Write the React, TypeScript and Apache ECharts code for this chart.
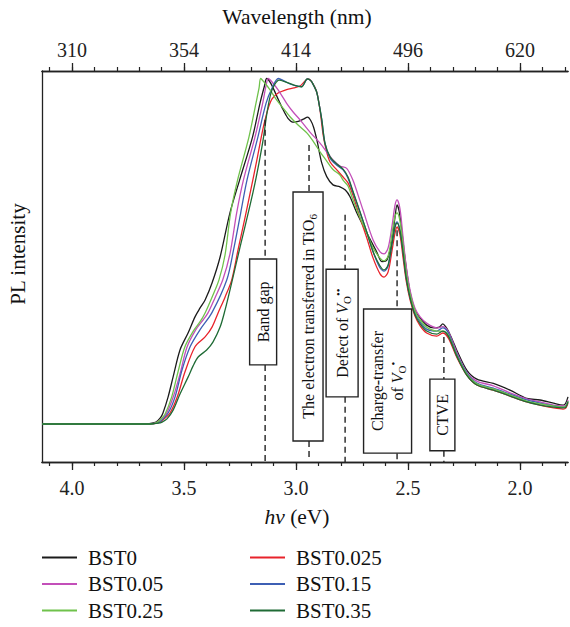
import React, { useEffect, useRef } from 'react';
import * as echarts from 'echarts';

const FONT = "'Liberation Serif', 'Times New Roman', serif";

// Photon energy axis (eV)
const energyMin = 1.786;
const energyMax = 4.134;
const majorTicks = [2.0, 2.5, 3.0, 3.5, 4.0];
const wavelengthLabels = ['620', '496', '414', '354', '310'];
const minorTicks = [1.8, 1.9, 2.0, 2.1, 2.2, 2.3, 2.4, 2.5, 2.6, 2.7, 2.8, 2.9, 3.0, 3.1, 3.2, 3.3, 3.4, 3.5, 3.6, 3.7, 3.8, 3.9, 4.0, 4.1];

const seriesNames = ['BST0', 'BST0.025', 'BST0.05', 'BST0.15', 'BST0.25', 'BST0.35'];
const seriesColors = ['#1b1b1b', '#e8232b', '#c34fb9', '#3d5fb4', '#6fc24b', '#1f6b35'];

// [energy (eV), PL intensity (a.u.)]
const bst0 = [
  [4.134, 10.4], [3.9, 10.4], [3.7, 10.4], [3.655, 10.5], [3.625, 10.9], [3.605, 12.0], [3.594, 13.2],
  [3.571, 17.3], [3.549, 22.3], [3.518, 29.2], [3.482, 33.5], [3.451, 37.6], [3.429, 39.8], [3.406, 41.9],
  [3.375, 46.2], [3.339, 52.8], [3.295, 64.0], [3.252, 72.3], [3.194, 83.3], [3.161, 91.8], [3.141, 96.2],
  [3.131, 98.1], [3.112, 96.8], [3.085, 93.5], [3.064, 90.9], [3.036, 88.0], [3.01, 87.0], [2.99, 87.2],
  [2.967, 87.8], [2.948, 88.3], [2.935, 87.5], [2.922, 85.8], [2.907, 82.5], [2.885, 76.6], [2.863, 73.2],
  [2.835, 71.1], [2.804, 70.6], [2.78, 69.8], [2.759, 68.1], [2.729, 64.0], [2.684, 58.9], [2.64, 54.1],
  [2.616, 51.6], [2.598, 51.8], [2.585, 53.5], [2.571, 57.1], [2.558, 63.0], [2.549, 66.0], [2.54, 64.5],
  [2.529, 60.0], [2.518, 54.5], [2.505, 48.8], [2.491, 43.9], [2.469, 39.3], [2.446, 37.3], [2.417, 35.5],
  [2.385, 34.8], [2.36, 35.0], [2.345, 35.8], [2.333, 35.2], [2.32, 34.0], [2.3, 31.5], [2.283, 29.2],
  [2.238, 24.1], [2.193, 21.8], [2.119, 20.7], [2.045, 19.0], [1.97, 16.9], [1.911, 16.5], [1.851, 15.7],
  [1.808, 15.2], [1.797, 15.6], [1.786, 17.3],
];

const bst0025 = [
  [4.134, 10.4], [3.9, 10.4], [3.7, 10.4], [3.65, 10.4], [3.62, 10.6], [3.6, 11.2], [3.5625, 13.2],
  [3.53, 17.3], [3.496, 23.6], [3.451, 30.0], [3.406, 32.5], [3.375, 35.0], [3.348, 38.6], [3.317, 42.6],
  [3.287, 47.0], [3.259, 54.6], [3.228, 62.7], [3.202, 69.8], [3.175, 77.4], [3.156, 83.0], [3.143, 86.5],
  [3.125, 90.4], [3.107, 92.9], [3.08, 94.4], [3.042, 95.3], [3.009, 95.7], [2.982, 96.2], [2.964, 97.2],
  [2.946, 98.0], [2.929, 97.2], [2.908, 94.7], [2.893, 90.1], [2.879, 83.8], [2.863, 79.4], [2.848, 76.9],
  [2.818, 74.9], [2.79, 73.1], [2.768, 71.6], [2.746, 68.5], [2.714, 62.7], [2.684, 57.6], [2.656, 52.5],
  [2.625, 48.5], [2.607, 47.7], [2.589, 49.0], [2.571, 54.6], [2.558, 58.9], [2.549, 60.4], [2.536, 58.4],
  [2.522, 52.5], [2.509, 47.0], [2.491, 41.9], [2.469, 37.8], [2.446, 35.3], [2.417, 33.5], [2.372, 32.7],
  [2.345, 33.5], [2.32, 32.2], [2.283, 27.4], [2.238, 22.8], [2.193, 20.3], [2.119, 19.0], [2.045, 17.5],
  [1.97, 16.0], [1.911, 15.2], [1.851, 14.5], [1.808, 14.2], [1.795, 14.5], [1.786, 15.7],
];

const bst005 = [
  [4.134, 10.4], [3.9, 10.4], [3.7, 10.4], [3.65, 10.4], [3.625, 10.7], [3.608, 11.4], [3.58, 12.9],
  [3.548, 17.3], [3.518, 23.1], [3.487, 29.9], [3.446, 34.5], [3.415, 36.8], [3.393, 38.6], [3.362, 42.4],
  [3.327, 47.0], [3.295, 53.6], [3.265, 64.0], [3.235, 72.3], [3.183, 83.3], [3.149, 91.8], [3.134, 96.2],
  [3.124, 98.1], [3.107, 97.2], [3.08, 95.2], [3.042, 91.8], [3.013, 89.6], [2.982, 87.6], [2.938, 84.5],
  [2.893, 81.7], [2.862, 79.4], [2.835, 77.4], [2.804, 75.9], [2.774, 75.3], [2.746, 72.3], [2.723, 68.5],
  [2.701, 64.7], [2.656, 57.1], [2.625, 54.1], [2.607, 53.6], [2.589, 55.1], [2.571, 60.9], [2.558, 66.0],
  [2.549, 67.3], [2.536, 65.0], [2.522, 57.6], [2.509, 50.8], [2.491, 44.4], [2.469, 39.8], [2.446, 37.6],
  [2.417, 36.0], [2.372, 34.8], [2.345, 35.1], [2.32, 33.8], [2.283, 28.7], [2.238, 23.6], [2.193, 21.3],
  [2.119, 20.1], [2.045, 18.3], [1.97, 16.8], [1.911, 16.0], [1.851, 15.2], [1.808, 15.0], [1.795, 15.2],
  [1.786, 16.5],
];

const bst015 = [
  [4.134, 10.4], [3.9, 10.4], [3.7, 10.4], [3.65, 10.4], [3.622, 10.6], [3.607, 11.0], [3.571, 13.2],
  [3.54, 17.3], [3.509, 24.1], [3.473, 30.0], [3.429, 34.3], [3.376, 38.6], [3.309, 47.0], [3.279, 54.6],
  [3.247, 64.0], [3.219, 72.3], [3.17, 83.3], [3.134, 91.8], [3.107, 95.7], [3.079, 98.1], [3.054, 97.5],
  [3.027, 96.7], [3.0, 96.2], [2.975, 96.0], [2.96, 97.2], [2.95, 98.0], [2.933, 97.5], [2.92, 96.2],
  [2.908, 94.7], [2.897, 91.6], [2.885, 87.6], [2.871, 81.7], [2.848, 77.9], [2.818, 76.1], [2.79, 74.9],
  [2.768, 72.8], [2.746, 69.3], [2.714, 64.0], [2.684, 59.1], [2.656, 54.1], [2.625, 50.0], [2.607, 49.2],
  [2.589, 50.5], [2.571, 56.6], [2.558, 60.7], [2.549, 61.7], [2.536, 59.6], [2.522, 54.1], [2.509, 48.0],
  [2.491, 42.6], [2.469, 38.6], [2.446, 36.3], [2.417, 34.5], [2.372, 34.0], [2.345, 34.8], [2.32, 33.5],
  [2.283, 28.2], [2.238, 23.4], [2.193, 20.8], [2.119, 19.5], [2.045, 18.0], [1.97, 16.5], [1.911, 15.7],
  [1.851, 15.0], [1.808, 14.7], [1.795, 15.0], [1.786, 16.2],
];

const bst025 = [
  [4.134, 10.4], [3.9, 10.4], [3.7, 10.4], [3.65, 10.4], [3.625, 10.7], [3.607, 11.4], [3.585, 12.9],
  [3.555, 17.3], [3.527, 23.6], [3.496, 30.0], [3.455, 34.3], [3.429, 36.3], [3.406, 38.6], [3.375, 42.6],
  [3.344, 47.0], [3.317, 53.3], [3.292, 64.0], [3.261, 72.3], [3.21, 83.3], [3.179, 91.8], [3.165, 95.7],
  [3.158, 98.1], [3.143, 97.2], [3.116, 95.2], [3.086, 92.6], [3.058, 90.6], [3.027, 88.4], [2.991, 86.3],
  [2.952, 84.3], [2.924, 82.2], [2.893, 79.5], [2.866, 77.4], [2.835, 75.0], [2.804, 73.6], [2.79, 72.3],
  [2.768, 70.8], [2.746, 67.3], [2.714, 62.7], [2.684, 58.9], [2.656, 55.1], [2.625, 52.5], [2.607, 51.8],
  [2.589, 53.0], [2.571, 58.9], [2.558, 63.2], [2.549, 64.0], [2.536, 61.9], [2.522, 55.6], [2.509, 49.2],
  [2.491, 43.4], [2.469, 39.1], [2.446, 36.8], [2.417, 35.0], [2.372, 34.0], [2.345, 34.0], [2.32, 33.0],
  [2.283, 27.9], [2.238, 23.1], [2.193, 20.6], [2.119, 19.3], [2.045, 17.8], [1.97, 16.2], [1.911, 15.5],
  [1.851, 15.0], [1.808, 14.7], [1.795, 15.0], [1.786, 16.2],
];

const bst035 = [
  [4.134, 10.4], [3.9, 10.4], [3.7, 10.4], [3.65, 10.4], [3.615, 10.6], [3.598, 10.9], [3.576, 11.7],
  [3.548, 14.0], [3.518, 18.0], [3.482, 22.3], [3.46, 25.1], [3.437, 27.4], [3.399, 29.2], [3.371, 31.2],
  [3.339, 35.0], [3.317, 39.3], [3.295, 44.4], [3.25, 55.3], [3.205, 66.0], [3.183, 71.6], [3.163, 77.4],
  [3.147, 82.5], [3.129, 89.6], [3.112, 94.4], [3.094, 96.7], [3.076, 97.7], [3.045, 97.2], [3.009, 96.4],
  [2.975, 96.0], [2.95, 98.0], [2.933, 97.5], [2.92, 96.2], [2.908, 94.7], [2.897, 91.6], [2.885, 87.6],
  [2.871, 81.7], [2.848, 78.2], [2.818, 76.4], [2.79, 75.1], [2.768, 73.1], [2.746, 69.5], [2.714, 64.2],
  [2.684, 59.1], [2.656, 54.1], [2.625, 50.5], [2.607, 49.5], [2.589, 50.8], [2.571, 56.3], [2.558, 60.4],
  [2.549, 61.4], [2.536, 59.4], [2.522, 53.8], [2.509, 47.7], [2.491, 42.4], [2.469, 38.1], [2.446, 35.8],
  [2.417, 34.0], [2.372, 33.2], [2.345, 34.0], [2.32, 32.7], [2.283, 27.7], [2.238, 22.8], [2.193, 20.3],
  [2.119, 19.0], [2.045, 17.5], [1.97, 16.0], [1.911, 15.2], [1.851, 14.7], [1.808, 14.5], [1.795, 14.7],
  [1.786, 16.0],
];

const seriesData = [bst0, bst0025, bst005, bst015, bst025, bst035];

// Annotations: energy of each feature, dashed-line and box extents in intensity units
const annotationEnergies = [3.138, 2.942, 2.781, 2.549, 2.34];
const annotationLabels = [
  'Band gap',
  'The electron transferred in TiO{sub|6}',
  'Defect of {it|V}{sub|O}{sup|••}',
  'Charge-transfer\nof {it|V}{sub|O}{sup|•}',
  'CTVE',
];
const annotationDashTop = [87.6, 81.2, 63.5, 59.6, 32.5];
const annotationBoxTop = [52.3, 69.3, 49.7, 39.6, 21.8];
const annotationBoxBottom = [25.4, 6.1, 17.3, 3.0, 3.6];
const annotationDashBottom = [0.76, 2.0, 0.76, 0.76, 0.76];

const boxWidths = [27, 30, 32, 48, 25];
const boxShifts = [-2, -1, -3, -9.5, -1.5];

const tickFormatter = (v: number) => v.toFixed(1);
const topFormatter = (v: number) => {
  const i = majorTicks.findIndex((t) => Math.abs(t - v) < 1e-6);
  return i >= 0 ? wavelengthLabels[i] : '';
};

function buildOption() {
  const axisLine = { show: true, lineStyle: { color: '#222', width: 1.3 } };
  const baseX = {
    type: 'value',
    min: energyMin,
    max: energyMax,
    inverse: true,
    splitLine: { show: false },
    axisLine,
  };
  const rich = {
    sub: { fontSize: 11, lineHeight: 10, verticalAlign: 'bottom', fontFamily: FONT, fill: '#111' },
    sup: { fontSize: 11, lineHeight: 10, verticalAlign: 'top', fontFamily: FONT, fill: '#111' },
    it: { fontSize: 16, lineHeight: 20, fontStyle: 'italic', fontFamily: FONT, fill: '#111' },
  };
  const legendCommon = {
    orient: 'vertical',
    top: 547,
    height: 82,
    padding: 0,
    itemWidth: 35,
    itemHeight: 2,
    itemGap: 5.5,
    icon: 'rect',
    textStyle: { fontSize: 21, lineHeight: 21, fontFamily: FONT, color: '#111', padding: [0, 0, 0, 6] },
  };

  return {
    animation: false,
    backgroundColor: '#ffffff',
    grid: { left: 42, right: 2, top: 71, bottom: 165, containLabel: false },
    xAxis: [
      {
        ...baseX,
        position: 'bottom',
        axisTick: { show: true, inside: false, length: 8, customValues: majorTicks, lineStyle: { color: '#222', width: 1.3 } },
        axisLabel: {
          show: true, customValues: majorTicks, formatter: tickFormatter, margin: 16,
          fontSize: 20, fontFamily: FONT, color: '#222',
        },
      },
      {
        ...baseX,
        position: 'bottom',
        axisTick: { show: true, inside: false, length: 4, customValues: minorTicks, lineStyle: { color: '#222', width: 1.2 } },
        axisLabel: { show: false },
      },
      {
        ...baseX,
        position: 'top',
        axisTick: { show: true, inside: false, length: 8, customValues: majorTicks, lineStyle: { color: '#222', width: 1.3 } },
        axisLabel: {
          show: true, customValues: majorTicks, formatter: topFormatter, margin: 11,
          fontSize: 20, fontFamily: FONT, color: '#222',
        },
      },
      {
        ...baseX,
        position: 'top',
        axisTick: { show: true, inside: false, length: 4, customValues: minorTicks, lineStyle: { color: '#222', width: 1.2 } },
        axisLabel: { show: false },
      },
    ],
    yAxis: {
      type: 'value',
      min: 0.76,
      max: 100,
      axisLine,
      axisTick: { show: false },
      axisLabel: { show: false },
      splitLine: { show: false },
    },
    legend: [
      { ...legendCommon, data: [seriesNames[0], seriesNames[2], seriesNames[4]], left: 42 },
      { ...legendCommon, data: [seriesNames[1], seriesNames[3], seriesNames[5]], left: 250 },
    ],
    graphic: [
      {
        type: 'text', x: 297, y: 17,
        style: { text: 'Wavelength (nm)', fontSize: 21.5, fontFamily: FONT, fill: '#111', align: 'center', verticalAlign: 'middle' },
      },
      {
        type: 'text', x: 297, y: 517,
        style: {
          text: '{i|hν} (eV)', fontSize: 21.5, fontFamily: FONT, fill: '#111', align: 'center', verticalAlign: 'middle',
          rich: { i: { fontStyle: 'italic', fontSize: 21.5, fontFamily: FONT, fill: '#111' } },
        },
      },
      {
        type: 'text', x: 18, y: 254, rotation: Math.PI / 2,
        style: { text: 'PL intensity', fontSize: 21, fontFamily: FONT, fill: '#111', align: 'center', verticalAlign: 'middle' },
      },
    ],
    series: [
      ...seriesNames.map((name, i) => ({
        name,
        type: 'line',
        xAxisIndex: 0,
        yAxisIndex: 0,
        data: seriesData[i],
        showSymbol: false,
        symbol: 'none',
        smooth: 0.3,
        lineStyle: { color: seriesColors[i], width: 1.3 },
        itemStyle: { color: seriesColors[i] },
        z: 2 + i,
      })),
      {
        type: 'custom',
        coordinateSystem: 'cartesian2d',
        xAxisIndex: 0,
        yAxisIndex: 0,
        silent: true,
        clip: false,
        z: 20,
        data: annotationEnergies.map((e, i) => [
          e, annotationDashTop[i], annotationBoxTop[i], annotationBoxBottom[i], annotationDashBottom[i], i,
        ]),
        encode: { x: 0, y: 1 },
        renderItem: (params: any, api: any) => {
          const e = api.value(0);
          const idx = api.value(5);
          const p1 = api.coord([e, api.value(1)]);
          const x = p1[0];
          const y1 = p1[1];
          const y2 = api.coord([e, api.value(2)])[1];
          const y3 = api.coord([e, api.value(3)])[1];
          const y4 = api.coord([e, api.value(4)])[1];
          const w = boxWidths[idx];
          const cx = x + boxShifts[idx];
          const dash = { stroke: '#222', lineWidth: 1.4, lineDash: [6, 4] };
          return {
            type: 'group',
            children: [
              { type: 'line', shape: { x1: x, y1, x2: x, y2 }, style: dash },
              { type: 'line', shape: { x1: x, y1: y3, x2: x, y2: y4 }, style: dash },
              {
                type: 'rect',
                shape: { x: cx - w / 2, y: y2, width: w, height: y3 - y2 },
                style: { fill: '#ffffff', stroke: '#222', lineWidth: 1.4 },
              },
              {
                type: 'text',
                x: cx,
                y: (y2 + y3) / 2,
                rotation: Math.PI / 2,
                style: {
                  text: annotationLabels[idx],
                  fontSize: 16,
                  lineHeight: 20,
                  fontFamily: FONT,
                  fill: '#111',
                  align: 'center',
                  verticalAlign: 'middle',
                  rich,
                },
              },
            ],
          };
        },
      },
    ],
  };
}

export default function App() {
  const ref = useRef<HTMLDivElement>(null);
  useEffect(() => {
    document.body.style.margin = '0';
    const chart = echarts.init(ref.current as HTMLDivElement, null, { renderer: 'svg' });
    chart.setOption(buildOption() as any);
    return () => {
      chart.dispose();
    };
  }, []);
  return (
    <div
      ref={ref}
      style={{ position: 'absolute', left: 0, top: 0, width: 570, height: 627, background: '#fff' }}
    />
  );
}
